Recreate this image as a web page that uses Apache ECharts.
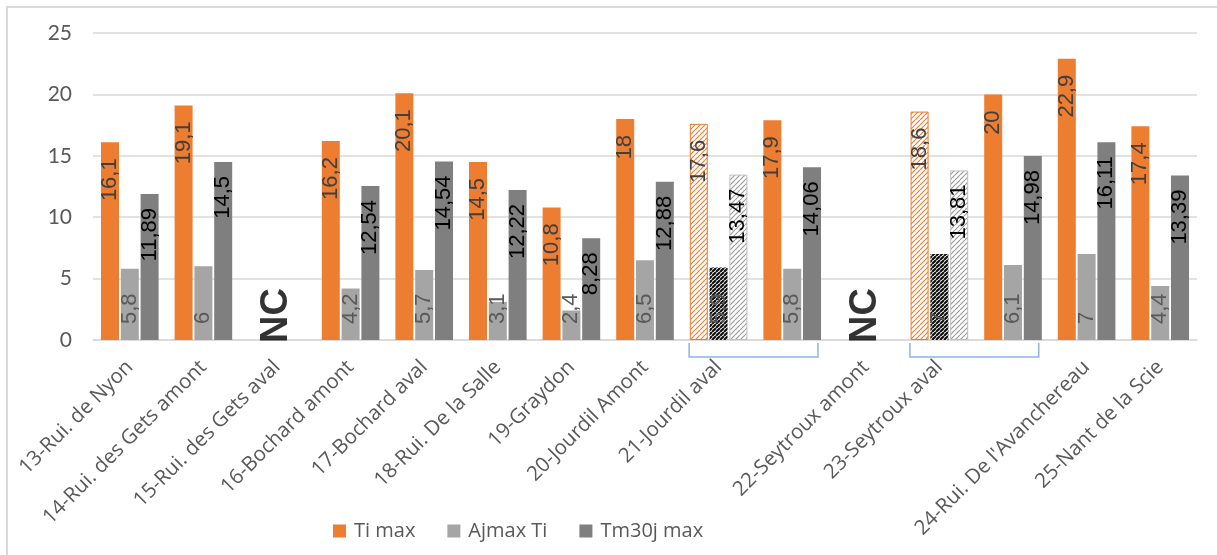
<!DOCTYPE html>
<html><head><meta charset="utf-8">
<script src="https://cdn.jsdelivr.net/npm/echarts@6/dist/echarts.min.js"></script>
<style>html,body{margin:0;padding:0;background:#fff}#c{width:1217px;height:555px}</style>
</head><body><div id="c"></div>
<script>
// ---- data ----
const slots = ['13','14','15','16','17','18','19','20','21a','21b','22','23a','23b','24','25'];
const tickLabels = ['13-Rui. de Nyon','14-Rui. des Gets amont','15-Rui. des Gets aval','16-Bochard amont','17-Bochard aval','18-Rui. De la Salle','19-Graydon','20-Jourdil Amont','21-Jourdil aval','','22-Seytroux amont','23-Seytroux aval','',"24-Rui. De l'Avanchereau",'25-Nant de la Scie'];
const tiMax    = [16.1, 19.1, null, 16.2, 20.1, 14.5, 10.8, 18, 17.6, 17.9, null, 18.6, 20, 22.9, 17.4];
const ajmaxTi  = [5.8, 6, null, 4.2, 5.7, 3.1, 2.4, 6.5, 5.9, 5.8, null, 7, 6.1, 7, 4.4];
const tm30jMax = [11.89, 14.5, null, 12.54, 14.54, 12.22, 8.28, 12.88, 13.47, 14.06, null, 13.81, 14.98, 16.11, 13.39];
const hatchedSlots = [8, 11];
const ncSlots = [2, 10];
const brackets = [[8, 9], [11, 12]];
const seriesNames = ['Ti max', 'Ajmax Ti', 'Tm30j max'];
const yTicks = {min: 0, max: 25, interval: 5};

// ---- styles ----
const COLORS = ['#ED7D31', '#A5A5A5', '#7F7F7F'];
function hatch(bg, fg, lw, size) {
  const c = document.createElement('canvas');
  c.width = c.height = size;
  const ctx = c.getContext('2d');
  ctx.fillStyle = bg; ctx.fillRect(0, 0, size, size);
  ctx.strokeStyle = fg; ctx.lineWidth = lw;
  ctx.beginPath();
  for (const k of [-1, 0, 1]) {
    ctx.moveTo(k * size, size); ctx.lineTo(size + k * size, 0);
  }
  ctx.stroke();
  return {image: c, repeat: 'repeat'};
}
const hatchStyles = [
  {color: hatch('#ffffff', '#ED7D31', 1.2, 5), borderColor: '#ED7D31', borderWidth: 1},
  {color: hatch('#ffffff', '#111111', 2.2, 4), borderColor: 'transparent', borderWidth: 0},
  {color: hatch('#ffffff', '#9a9a9a', 1.2, 5), borderColor: '#BFBFBF', borderWidth: 1}
];
const fmt = p => (p.value == null ? '' : String(p.value).replace('.', ','));
function toData(arr, si) {
  return arr.map((v, i) => hatchedSlots.includes(i) ? {value: v, itemStyle: hatchStyles[si]} : v);
}
const labelBase = {show: true, rotate: 90, verticalAlign: 'middle', fontFamily: 'Liberation Sans', fontSize: 22, formatter: fmt};

const chart = echarts.init(document.getElementById('c'), null, {renderer: 'canvas'});
const option = {
  animation: false,
  textStyle: {fontFamily: 'Open Sans'},
  graphic: [{type: 'rect', shape: {x: 7, y: 7, width: 1400, height: 800}, style: {fill: 'none', stroke: '#D9D9D9', lineWidth: 2}, silent: true}],
  legend: {
    data: seriesNames, left: 328, top: 516, itemWidth: 13, itemHeight: 13, itemGap: 32, icon: 'rect',
    textStyle: {fontFamily: 'Open Sans', fontSize: 20, color: '#595959', padding: [0, 0, 0, 3]}
  },
  grid: {left: 93, right: 20, top: 33, bottom: 215, containLabel: false},
  xAxis: {
    type: 'category', data: slots,
    axisLine: {show: true, lineStyle: {color: '#D9D9D9', width: 1.5}},
    axisTick: {show: false},
    axisLabel: {interval: 0, rotate: 45, margin: 24, fontFamily: 'Open Sans', fontSize: 20.5, color: '#595959',
      formatter: (v, i) => tickLabels[i]}
  },
  yAxis: {
    type: 'value', min: yTicks.min, max: yTicks.max, interval: yTicks.interval,
    axisLine: {show: false}, axisTick: {show: false},
    splitLine: {lineStyle: {color: '#D9D9D9', width: 1.5}},
    axisLabel: {fontFamily: 'Lato', fontSize: 21, color: '#595959', margin: 21}
  },
  series: [
    {name: seriesNames[0], type: 'bar', data: toData(tiMax, 0), barWidth: 18, barGap: '10%', itemStyle: {color: COLORS[0]},
      label: Object.assign({}, labelBase, {position: 'insideTop', align: 'right', distance: 16, color: '#404040'})},
    {name: seriesNames[1], type: 'bar', data: toData(ajmaxTi, 1), barWidth: 18, barGap: '10%', itemStyle: {color: COLORS[1]},
      label: Object.assign({}, labelBase, {position: 'insideBottom', align: 'left', distance: 16, color: '#595959'})},
    {name: seriesNames[2], type: 'bar', data: toData(tm30jMax, 2), barWidth: 18, barGap: '10%', itemStyle: {color: COLORS[2]},
      label: Object.assign({}, labelBase, {position: 'insideTop', align: 'right', distance: 14, color: '#000000'})},
    {name: 'NC', type: 'scatter', data: ncSlots.map(i => [i, 0]), symbolSize: 0, itemStyle: {color: 'transparent'}, z: 5,
      label: {show: true, formatter: 'NC', position: 'top', distance: -3, rotate: 90, align: 'left', verticalAlign: 'middle',
        fontFamily: 'Liberation Sans', fontWeight: 'bold', fontSize: 38, color: '#000'}},
    {name: 'brackets', type: 'custom', data: brackets.map(b => [b[0], b[1], 0]), encode: {x: [0, 1], y: 2}, clip: false, z: 3,
      renderItem: (params, api) => {
        const band = api.size([1, 0])[0];
        const a = api.coord([api.value(0), 0]);
        const b = api.coord([api.value(1), 0]);
        const x0 = a[0] - band * 0.4, x1 = b[0] + band * 0.35;
        const y0 = a[1] + 3, y1 = a[1] + 17;
        return {type: 'polyline', shape: {points: [[x0, y0], [x0, y1], [x1, y1], [x1, y0]]},
          style: {stroke: '#8DB4E2', lineWidth: 1.5, fill: 'none'}};
      }}
  ]
};
chart.setOption(option);
</script>
</body></html>
